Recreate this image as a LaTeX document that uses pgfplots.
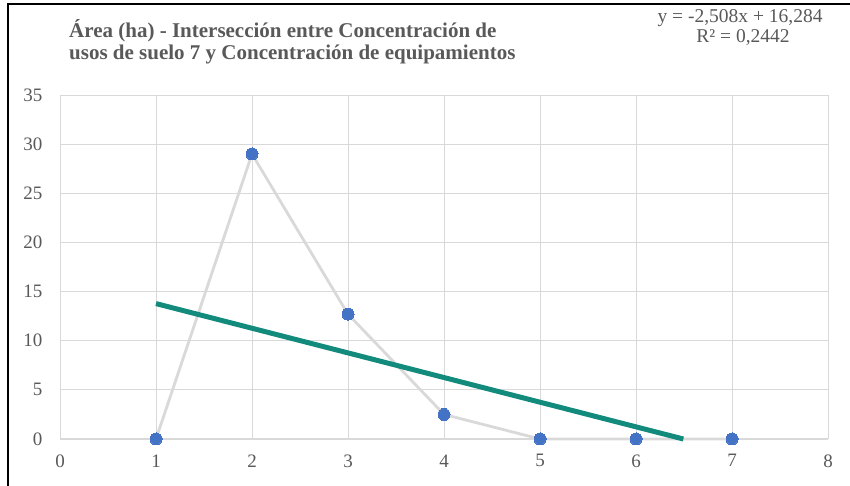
\documentclass[border=0pt]{standalone}
\usepackage{fontspec}
\setmainfont{Liberation Serif}
\usepackage{pgfplots}
\pgfplotsset{compat=1.18}
\definecolor{gridc}{RGB}{217,217,217}
\definecolor{linec}{RGB}{217,217,217}
\definecolor{markc}{RGB}{68,114,196}
\definecolor{trendc}{RGB}{18,139,125}
\definecolor{textc}{RGB}{89,89,89}
\begin{document}
\begin{tikzpicture}[x=1pt,y=1pt]
\path[use as bounding box] (0,0) rectangle (850,486);
\draw[line width=2.4pt] (8,0) -- (8,482) -- (850,482);
\begin{axis}[
  at={(60pt,47pt)}, anchor=south west,
  scale only axis, width=768pt, height=344pt,
  xmin=0, xmax=8, ymin=0, ymax=35,
  xtick={0,...,8}, ytick={0,5,...,35},
  grid=major, major grid style={gridc, line width=0.8pt},
  axis line style={draw=none},
  tick style={draw=none},
  /pgf/number format/assume math mode=true,
  tick label style={font=\fontsize{19}{19}\selectfont, text=textc},
  xticklabel style={yshift=-12pt},
  yticklabel style={xshift=-14pt},
  clip=false,
]
\draw[gridc, line width=1pt] (axis cs:0,0) -- (axis cs:8,0);
\addplot[linec, line width=2.8pt, mark=*, mark size=6pt,
  mark options={fill=markc, draw=markc, line width=0pt}]
  coordinates {(1,0) (2,29) (3,12.7) (4,2.5) (5,0) (6,0) (7,0)};
\addplot[trendc, line width=5pt, line cap=butt]
  coordinates {(1,13.776) (6.493,0)};
\end{axis}
\node[anchor=base west, font=\fontsize{21}{22}\selectfont\bfseries, text=textc, inner sep=0pt]
  at (69,448) {Área (ha) - Intersección entre Concentración de};
\node[anchor=base west, font=\fontsize{21}{22}\selectfont\bfseries, text=textc, inner sep=0pt]
  at (69,426) {usos de suelo 7 y Concentración de equipamientos};
\node[anchor=base, font=\fontsize{19.5}{20}\selectfont, text=textc, inner sep=0pt]
  at (740,463) {y = -2,508x + 16,284};
\node[anchor=base, font=\fontsize{19.5}{20}\selectfont, text=textc, inner sep=0pt]
  at (743,443) {R² = 0,2442};
\end{tikzpicture}
\end{document}
